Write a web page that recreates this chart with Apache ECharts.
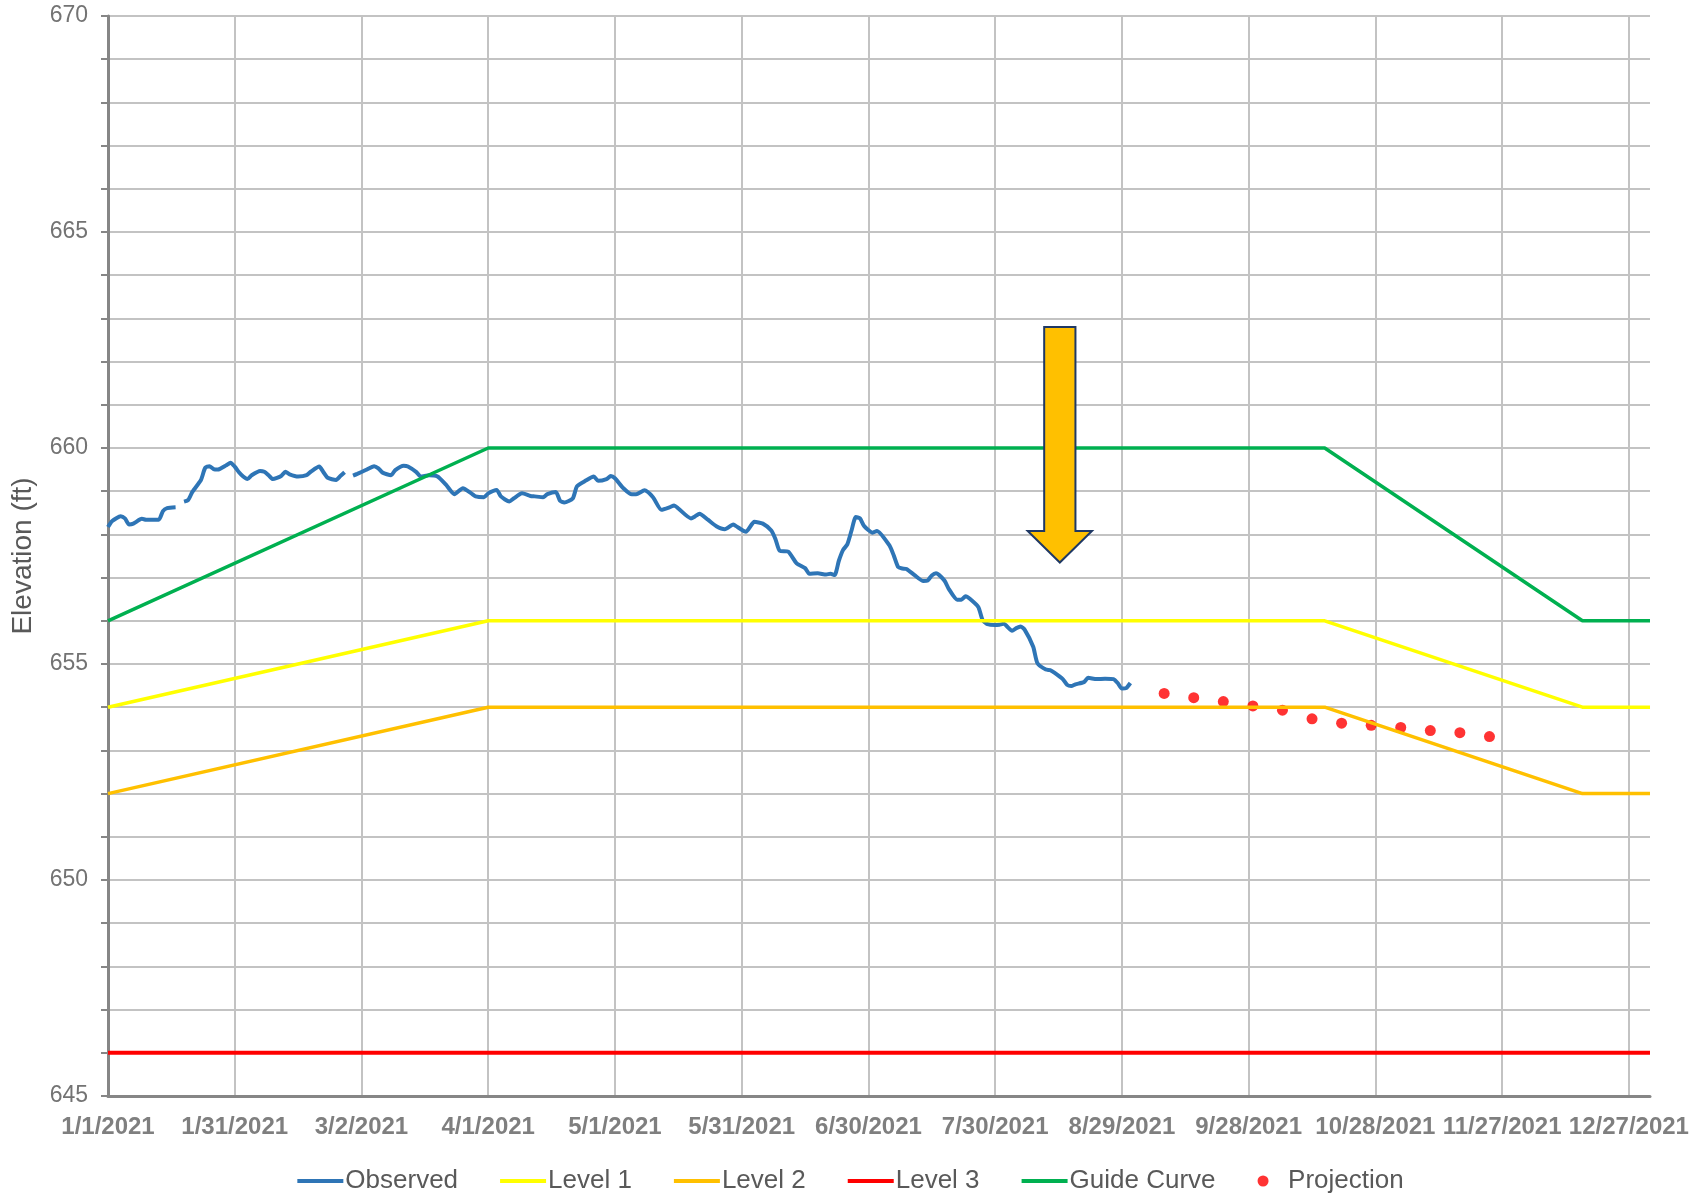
<!DOCTYPE html>
<html>
<head>
<meta charset="utf-8">
<script src="https://cdn.jsdelivr.net/npm/echarts@6/dist/echarts.min.js"></script>
<style>
html,body{margin:0;padding:0;background:#fff;}
#c{width:1701px;height:1194px;}
</style>
</head>
<body>
<div id="c"></div>
<script>
// x = day of year (0 = 1/1/2021)
const xTickLabels = ['1/1/2021','1/31/2021','3/2/2021','4/1/2021','5/1/2021','5/31/2021','6/30/2021','7/30/2021','8/29/2021','9/28/2021','10/28/2021','11/27/2021','12/27/2021'];

const obsDays = [
  0,1,3,4,5,6,8,9,12,13,
  14,16,17,18,19,20,22,23,24,25,
  26,28,29,30,31,32,33,34,36,37,
  38,39,41,42,43,45,47,48,50,51,
  52,54,55,56,57,58,59,61,63,64,
  65,67,68,70,71,73,74,76,78,80,
  82,84,86,87,89,90,92,93,95,96,
  98,100,101,103,104,106,107,108,110,111,
  113,115,116,118,119,120,122,124,125,127,
  129,131,133,134,135,138,139,140,142,144,
  146,148,149,151,153,155,157,158,159,161,
  163,165,166,168,170,171,172,173,174,175,
  176,177,178,179,181,182,185,186,187,188,
  189,191,193,194,195,196,198,199,201,202,
  203,204,206,207,208,210,211,212,214,215,
  216,217,219,220,222,223,224,226,227,228,
  229,231,232,234,236,238,239,240,241,242
];
const obsValues = [
  658.17,658.31,658.42,658.37,658.23,658.25,658.36,658.34,658.34,658.54,
  658.61,658.63,null,658.76,658.80,658.99,659.26,659.54,659.58,659.51,
  659.50,659.60,659.66,659.57,659.44,659.34,659.28,659.37,659.47,659.45,
  659.37,659.28,659.35,659.45,659.39,659.34,659.37,659.45,659.57,659.44,
  659.31,659.26,659.35,659.44,null,659.36,659.40,659.49,659.58,659.53,
  659.43,659.37,659.49,659.59,659.57,659.44,659.34,659.37,659.34,659.15,
  658.93,659.07,658.95,658.88,658.86,658.95,659.03,658.88,658.76,658.83,
  658.95,658.89,658.88,658.86,658.93,658.98,658.78,658.74,658.83,659.11,
  659.24,659.34,659.24,659.28,659.35,659.30,659.07,658.93,658.93,659.02,
  658.86,658.57,658.63,658.67,658.60,658.37,658.42,658.48,658.34,658.19,
  658.12,658.23,658.17,658.06,658.29,658.25,658.09,657.89,657.62,657.60,
  657.33,657.22,657.09,657.10,657.07,657.09,657.06,657.39,657.64,657.77,
  658.09,658.40,658.37,658.19,658.04,658.08,657.74,657.51,657.25,657.21,
  657.20,657.05,656.92,656.93,657.05,657.10,656.93,656.74,656.49,656.49,
  656.57,656.51,656.32,656.02,655.93,655.90,655.91,655.93,655.77,655.83,
  655.87,655.79,655.40,655.02,654.87,654.86,654.80,654.65,654.52,654.49,
  654.53,654.58,654.68,654.65,654.66,654.65,654.56,654.43,654.44,654.56
];

const levelDays  = [0, 90, 288, 349, 365];
const guideCurve = [656, 660, 660, 656, 656];
const level1     = [654, 656, 656, 654, 654];
const level2     = [652, 654, 654, 652, 652];
const level3     = [646, 646, 646, 646, 646];

const projDays   = [250,257,264,271,278,285,292,299,306,313,320,327];
const projValues = [654.32,654.22,654.13,654.03,653.93,653.73,653.63,653.58,653.53,653.46,653.41,653.32];

// arrow annotation: [day, top, neck, tip, shaft half-width (days), head half-width (days)]
const arrowSpec = [225.3, 662.8, 658.08, 657.35, 3.7, 7.6];

const zip = (xs, ys) => xs.map((x, i) => [x, ys[i] === null ? null : ys[i]]);

const chart = echarts.init(document.getElementById('c'), null, {renderer: 'canvas'});
const FONT = '"Liberation Sans", Arial, sans-serif';
const LINE_ICON = 'path://M0,0 H44 V3.6 H0 Z';

const lineSeries = (name, ys, color, width) => ({
  name, type: 'line', data: zip(levelDays, ys), symbol: 'none', showSymbol: false,
  lineStyle: {color, width}, itemStyle: {color}, animation: false
});

chart.setOption({
  animation: false,
  backgroundColor: '#ffffff',
  grid: {left: 108, right: 51, top: 16, bottom: 98, containLabel: false},
  legend: {
    data: [
      {name: 'Observed', icon: LINE_ICON},
      {name: 'Level 1', icon: LINE_ICON},
      {name: 'Level 2', icon: LINE_ICON},
      {name: 'Level 3', icon: LINE_ICON},
      {name: 'Guide Curve', icon: LINE_ICON},
      {name: 'Projection', icon: 'circle'}
    ],
    left: 'center', top: 1163,
    itemWidth: 46, itemHeight: 11, itemGap: 42, symbolKeepAspect: true,
    textStyle: {fontFamily: FONT, fontSize: 26, color: '#595959', padding: [0, 0, 0, -3]}
  },
  xAxis: {
    type: 'value', min: 0, max: 365, interval: 30,
    axisLine: {show: true, lineStyle: {color: '#868686', width: 3}},
    axisTick: {show: false},
    axisLabel: {
      margin: 19, fontFamily: FONT, fontSize: 24, fontWeight: 'bold', color: '#7F7F7F',
      showMaxLabel: false,
      formatter: v => (v % 30 === 0 && xTickLabels[v / 30]) ? xTickLabels[v / 30] : ''
    },
    splitLine: {show: true, showMaxLine: false, lineStyle: {color: '#C3C3C3', width: 2}}
  },
  yAxis: {
    type: 'value', min: 645, max: 670, interval: 1,
    name: 'Elevation (ft)', nameLocation: 'middle', nameGap: 71,
    nameTextStyle: {fontFamily: FONT, fontSize: 28, color: '#595959'},
    axisLine: {show: true, lineStyle: {color: '#868686', width: 3}},
    axisTick: {show: true, length: 7, lineStyle: {color: '#868686', width: 2}},
    axisLabel: {
      margin: 20, fontFamily: FONT, fontSize: 23, color: '#737373',
      formatter: v => (v % 5 === 0 ? String(v) : '')
    },
    splitLine: {show: true, lineStyle: {color: '#C3C3C3', width: 2}}
  },
  series: [
    {
      name: 'Observed', type: 'line', data: zip(obsDays, obsValues),
      symbol: 'none', showSymbol: false, connectNulls: false, smooth: 0.2,
      lineStyle: {color: '#2E75B6', width: 4}, itemStyle: {color: '#2E75B6'}
    },
    lineSeries('Level 1', level1, '#FFFF00', 3.5),
    lineSeries('Level 2', level2, '#FFC000', 3.5),
    lineSeries('Level 3', level3, '#FF0000', 4),
    lineSeries('Guide Curve', guideCurve, '#00B050', 3.5),
    {
      name: 'Projection', type: 'scatter', data: zip(projDays, projValues),
      symbol: 'circle', symbolSize: 11, itemStyle: {color: '#FF0000'}
    },
    {
      name: 'arrow', type: 'custom', silent: true, clip: false, z: 10,
      data: [arrowSpec],
      renderItem: function (params, api) {
        const d = api.value(0), top = api.value(1), neck = api.value(2), tip = api.value(3);
        const sh = api.value(4), hh = api.value(5);
        const pts = [
          [d - sh, top], [d + sh, top], [d + sh, neck], [d + hh, neck],
          [d, tip], [d - hh, neck], [d - sh, neck]
        ].map(p => api.coord(p));
        return {
          type: 'polygon', shape: {points: pts},
          style: {fill: '#FFC000', stroke: '#1F3864', lineWidth: 2}
        };
      }
    }
  ]
});
</script>
</body>
</html>
